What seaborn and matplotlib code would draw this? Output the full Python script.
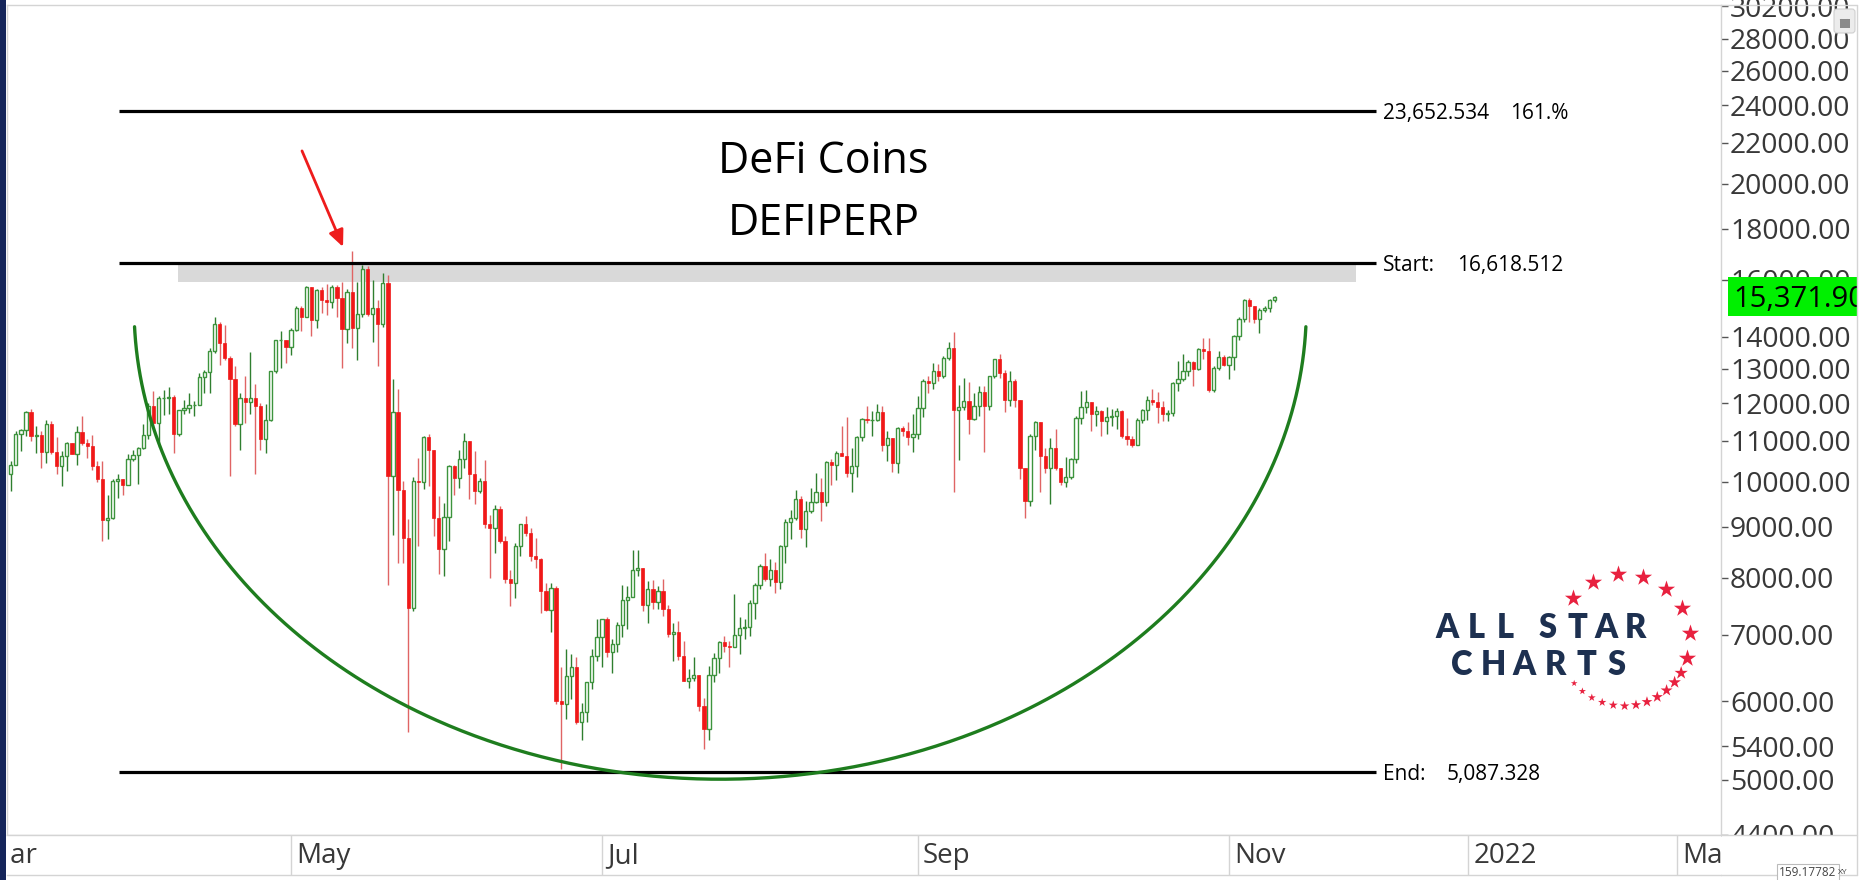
import numpy as np
import pandas as pd
import matplotlib
matplotlib.use("Agg")
import matplotlib.pyplot as plt
import matplotlib.transforms as mtransforms
from matplotlib.patches import Rectangle, FancyBboxPatch, Arc
from matplotlib.ticker import FixedLocator, FixedFormatter, NullLocator
import seaborn as sns

# ------------------------------------------------------------------ data
START_DATE = "2021-03-07"
FIRST_OPEN = 10180
LAST_PRICE = 15371.90

close = [
    10400, 11180, 11270, 11760, 11110, 11150, 10710, 11420, 10720, 10380,
    10610, 10930, 10670, 11220, 10940, 10870, 10360, 10050, 9140, 9190,
    10010, 10060, 9930, 10550, 10630, 10800, 11140, 11930, 11460, 12150,
    12150, 12170, 11160, 11800, 11870, 11960, 11960, 12740, 12890, 13560,
    14430, 13800, 13330, 12680, 11420, 12150, 12040, 12150, 11910, 11030,
    11550, 12920, 13890, 13910, 13680, 14240, 14990, 14660, 15740, 14570,
    15620, 15260, 15170, 15740, 15320, 14260, 15560, 14290, 14780, 16390,
    14780, 14970, 14440, 15870, 10140, 11750, 9800, 8780, 7460, 10020,
    9990, 11090, 10770, 9190, 8540, 9210, 10380, 10090, 10530, 10980,
    10170, 9780, 10010, 9050, 8980, 9390, 8710, 7980, 7890, 8610,
    9050, 8880, 8410, 8360, 7750, 7410, 7810, 6000, 5960, 6360,
    6500, 5720, 5850, 6270, 6660, 6970, 7270, 6730, 6860, 7170,
    7600, 7650, 8150, 8170, 7500, 7780, 7550, 7750, 7440, 7010,
    7050, 6670, 6290, 6330, 6370, 5930, 5620, 6370, 6630, 6880,
    6820, 6810, 7000, 7120, 7130, 7540, 7860, 8210, 7980, 8150,
    7920, 8610, 9100, 9190, 9610, 8950, 9330, 9540, 9760, 9540,
    10470, 10400, 10690, 10610, 10210, 10360, 11090, 11580, 11530, 11550,
    11760, 10900, 11070, 10430, 11330, 11260, 11090, 11170, 11870, 12650,
    12580, 12920, 12770, 13330, 13640, 11820, 11900, 12070, 11570, 11910,
    12320, 11910, 12770, 13300, 12870, 12080, 12650, 12080, 10330, 9550,
    11110, 11480, 10610, 10330, 10820, 10330, 9990, 10100, 10540, 11600,
    11900, 12030, 11710, 11780, 11510, 11610, 11640, 11780, 11110, 11030,
    10900, 11550, 11800, 12100, 12030, 11900, 11690, 11730, 12580, 12680,
    12920, 13210, 12990, 13610, 13540, 12380, 13030, 13360, 13100, 13360,
    14040, 14590, 15260, 15030, 14590, 14910, 14970, 15260, 15371.9,
]

high = [
    10490, 11240, 11310, 11795, 11850, 11370, 11240, 11551, 11510, 11090,
    10730, 10970, 10920, 11370, 11640, 11030, 11140, 10490, 10490, 9690,
    10050, 10170, 10050, 10650, 10770, 10830, 11420, 12010, 12340, 12190,
    12360, 12450, 12240, 11820, 12100, 12290, 12050, 12870, 12970, 13640,
    14650, 14510, 14400, 13400, 13070, 12290, 12770, 13510, 12560, 12010,
    11990, 12920, 13910, 14210, 13910, 14290, 15030, 15030, 15770, 15740,
    15650, 15720, 15830, 15780, 15800, 15890, 15650, 17080, 15920, 16560,
    16520, 15990, 15260, 16240, 16170, 12680, 12400, 10010, 9170, 10110,
    10570, 11110, 11160, 10690, 9660, 9520, 10400, 10400, 10770, 11200,
    11000, 10730, 10090, 10510, 9260, 9480, 9440, 8820, 8150, 8670,
    9070, 9240, 8980, 8780, 8380, 7900, 7890, 7840, 6490, 6770,
    6690, 6650, 5980, 6270, 6780, 7260, 7270, 7300, 6930, 7210,
    7860, 7840, 8530, 8530, 8150, 7930, 7960, 7850, 7980, 7500,
    7190, 7230, 6900, 6470, 6650, 6370, 6040, 6510, 6710, 6900,
    6980, 6900, 7690, 7290, 7260, 7600, 7890, 8250, 8460, 8360,
    8290, 8620, 9160, 9370, 9800, 9660, 9550, 9850, 10190, 10090,
    10490, 10530, 10730, 11370, 11610, 10820, 11110, 11600, 11930, 11780,
    11990, 11910, 11240, 11030, 11350, 11370, 11480, 11690, 12190, 12680,
    12770, 13180, 13150, 13380, 13820, 14160, 12530, 12730, 12610, 12290,
    12500, 12500, 12790, 13300, 13460, 12970, 12940, 12680, 12100, 10330,
    11160, 11510, 11480, 10800, 11070, 11290, 10330, 10590, 10570, 11640,
    12340, 12360, 12010, 11910, 11820, 11890, 11840, 11870, 11820, 11600,
    11110, 11600, 11840, 12190, 12410, 12320, 12050, 11820, 12600, 13230,
    13450, 13280, 13230, 13640, 13980, 13980, 13070, 13540, 13430, 13380,
    14070, 14680, 15290, 15320, 15050, 14970, 15030, 15300, 15400,
]

low = [
    9780, 10430, 10730, 11110, 10980, 10690, 10330, 10450, 10650, 10180,
    9890, 10240, 10650, 10400, 10900, 10570, 10280, 9990, 8710, 8740,
    9160, 9630, 9700, 10210, 10490, 9950, 10780, 11030, 11330, 10830,
    11670, 11690, 10690, 11110, 11690, 11730, 11640, 11940, 12290, 12290,
    13490, 13100, 13280, 10130, 11370, 10760, 11460, 11690, 10170, 10760,
    10690, 11510, 12870, 13030, 13180, 13430, 14210, 14180, 14910, 14020,
    14290, 14800, 14740, 14970, 14680, 13030, 13800, 13640, 13260, 14660,
    14710, 13850, 13070, 14330, 7870, 8840, 8270, 8280, 5580, 7400,
    8610, 9820, 9890, 8810, 8060, 8030, 8700, 9700, 9850, 10330,
    9610, 9500, 9740, 8980, 8000, 8470, 8670, 7900, 7490, 7630,
    8410, 8810, 8310, 8180, 7370, 7400, 7040, 5960, 5120, 5750,
    6030, 5690, 5480, 5720, 6170, 6590, 6490, 6650, 6410, 6720,
    6960, 7100, 7650, 8030, 7400, 7200, 7430, 7430, 7310, 6960,
    6590, 6610, 6290, 6180, 6290, 5870, 5370, 5480, 6270, 6400,
    6730, 6490, 6800, 6700, 6940, 6990, 7270, 7780, 7930, 7840,
    7710, 7790, 8280, 8750, 9140, 8780, 8590, 9300, 9520, 9120,
    9440, 9930, 10030, 10610, 10110, 9750, 10100, 10980, 11460, 11130,
    11510, 10730, 10490, 10220, 10210, 11110, 10900, 10710, 11030, 11620,
    12290, 12400, 12630, 12730, 13280, 9750, 10510, 11820, 11160, 11530,
    11660, 10710, 11800, 12730, 12730, 11760, 11910, 11900, 10050, 9190,
    9440, 10770, 9760, 10210, 9500, 10280, 9920, 9880, 10070, 10450,
    11420, 11730, 11260, 11370, 11110, 11160, 11370, 11290, 11070, 10900,
    10850, 10940, 11460, 11550, 11960, 11460, 11510, 11510, 11640, 12340,
    12630, 12770, 12480, 12970, 13300, 12320, 12310, 12970, 13070, 12680,
    12970, 13910, 14510, 14510, 14460, 14130, 14820, 14850, 15200,
]

y_tick_values = [4400, 5000, 5400, 6000, 7000, 8000, 9000, 10000, 11000, 12000,
                 13000, 14000, 16000, 18000, 20000, 22000, 24000, 26000, 28000, 30200]
month_labels = ["Mar", "May", "Jul", "Sep", "Nov", "2022", "Mar"]
month_dates = ["2021-03-01", "2021-05-01", "2021-07-01", "2021-09-01",
               "2021-11-01", "2022-01-01", "2022-03-01"]

level_values = [23652.534, 16618.512, 5087.328]
level_names = ["23,652.534", "Start:", "End:"]
level_texts = ["161.%", "16,618.512", "5,087.328"]
zone_low, zone_high = 15920, 16600

title_lines = ["DeFi Coins", "DEFIPERP"]
logo_lines = ["ALL STAR", "CHARTS"]
scale_readout = "159.17782"

# cup (rounded bottom) drawing, in chart coordinates
CUP_CENTER, CUP_HALF = 139.2, 115.0
CUP_RIM, CUP_BOTTOM, CUP_END = 14986, 5004, 14335

# ------------------------------------------------------------------ style
sns.set_theme(style="white")
plt.rcParams["font.family"] = ["Open Sans", "DejaVu Sans"]

GREEN_EDGE = "#3d943d"
GREEN_WICK = "#2f7f2f"
RED_BODY = "#f01818"
RED_WICK = "#e06464"
GRID_GRAY = "#d4d4d4"
LABEL_GRAY = "#383838"

W, H = 1865, 880
fig = plt.figure(figsize=(W / 100, H / 100), dpi=100)
fig.patch.set_facecolor("white")


def px_rect(x0, y0, x1, y1):
    return [x0 / W, 1 - y1 / H, (x1 - x0) / W, (y1 - y0) / H]


ax = fig.add_axes(px_rect(7, 5, 1721, 835))
band = fig.add_axes(px_rect(7, 835, 1721, 875))
over = fig.add_axes([0, 0, 1, 1], zorder=10)
over.set_xlim(0, W)
over.set_ylim(H, 0)
over.axis("off")
over.patch.set_alpha(0)

ax.set_yscale("log")

c = np.asarray(close, float)
hi = np.asarray(high, float)
lo = np.asarray(low, float)
o = np.r_[FIRST_OPEN, c[:-1]]
n = len(c)
dates = pd.date_range(START_DATE, periods=n, freq="D")
x = np.arange(n)


def chart_pos(d):
    """Calendar days for history, weekday slots for the future area."""
    d = pd.Timestamp(d)
    if d <= dates[-1]:
        return (d - dates[0]).days
    nxt = (dates[-1] + pd.Timedelta(days=1)).date()
    return n + int(np.busday_count(nxt, d.date()))


XLIM = (-0.73, 335.55)

# ------------------------------------------------------------------ candles
up = c >= o
w_lo = np.minimum(lo, np.minimum(o, c))
w_hi = np.maximum(hi, np.maximum(o, c))
ax.vlines(x[up], w_lo[up], w_hi[up], color=GREEN_WICK, lw=1.0, zorder=3)
ax.vlines(x[~up], w_lo[~up], w_hi[~up], color=RED_WICK, lw=1.0, zorder=3)
b_lo = np.minimum(o, c)
b_h = np.abs(c - o)
ax.bar(x[up], b_h[up], bottom=b_lo[up], width=0.64, facecolor="white",
       edgecolor=GREEN_EDGE, linewidth=1.0, zorder=4)
ax.bar(x[~up], b_h[~up], bottom=b_lo[~up], width=0.64, facecolor=RED_BODY,
       edgecolor=RED_BODY, linewidth=0.5, zorder=4)

# ------------------------------------------------------------------ annotations
LINE_X0, LINE_X1 = 21.25, 267.9
ax.fill_between([32.9, 263.9], zone_low, zone_high, color="#d9d9d9", lw=0, zorder=1)
ax.hlines(level_values, LINE_X0, LINE_X1, color="black", lw=2.3, zorder=5)
for val, name, txt, off in zip(level_values, level_names, level_texts, [96.2, 58.0, 51.0]):
    ax.annotate(name, xy=(LINE_X1, val), xytext=(5.0, -5.4), textcoords="offset points",
                fontsize=15, va="baseline", ha="left", color="black", annotation_clip=False)
    ax.annotate(txt, xy=(LINE_X1, val), xytext=(off, -5.4), textcoords="offset points",
                fontsize=15, va="baseline", ha="left", color="black", annotation_clip=False)

lr, lb, le = np.log10([CUP_RIM, CUP_BOTTOM, CUP_END])
t0 = np.arcsin((lr - le) / (lr - lb))
tt = np.linspace(t0, np.pi - t0, 500)
cup = pd.DataFrame({"x": CUP_CENTER + CUP_HALF * np.cos(tt),
                    "y": 10 ** (lr - (lr - lb) * np.sin(tt))})
sns.lineplot(data=cup, x="x", y="y", sort=False, estimator=None,
             color="#1e7d1e", lw=2.4, ax=ax, zorder=6)
ax.set_xlabel("")
ax.set_ylabel("")

ax.annotate("", xy=(65.2, 17260), xytext=(57.15, 21580),
            arrowprops=dict(arrowstyle="-|>,head_length=1.0,head_width=0.45",
                            color="#ee1c1c", lw=2.0, shrinkA=0, shrinkB=0,
                            mutation_scale=10), zorder=7)

ax.text(0.4764, 0.7972, title_lines[0], transform=ax.transAxes, ha="center",
        va="baseline", fontsize=31, color="black")
ax.text(0.4764, 0.7229, title_lines[1], transform=ax.transAxes, ha="center",
        va="baseline", fontsize=31, color="black")

# ------------------------------------------------------------------ axes
ax.yaxis.tick_right()
ax.yaxis.set_major_locator(FixedLocator(y_tick_values))
ax.yaxis.set_major_formatter(FixedFormatter([f"{v:.2f}" for v in y_tick_values]))
ax.yaxis.set_minor_locator(NullLocator())
ax.tick_params(axis="y", which="major", right=True, left=False, labelright=True,
               labelleft=False, length=5, width=1, color="#555555",
               labelsize=20.3, labelcolor=LABEL_GRAY, pad=1.5)
ax.tick_params(axis="x", bottom=False, labelbottom=False)
ax.grid(False)
for s in ax.spines.values():
    s.set_color(GRID_GRAY)
    s.set_linewidth(1)

# last price tag
trans = mtransforms.blended_transform_factory(ax.transAxes, ax.transData)
f = 1.0464
ax.add_patch(Rectangle((1.0041, LAST_PRICE / f), 0.09, LAST_PRICE * f - LAST_PRICE / f,
                       transform=trans, facecolor="#00f000", edgecolor="none",
                       clip_on=False, zorder=8))
ax.annotate(f"{LAST_PRICE:,.2f}", xy=(1.0, LAST_PRICE), xycoords=trans,
            xytext=(8.6, -7.6), textcoords="offset points", fontsize=21,
            color="black", va="baseline", ha="left", annotation_clip=False, zorder=9)
ax.set_xlim(*XLIM)
ax.set_ylim(4395, 30300)

# date band
band.set_xlim(*XLIM)
band.set_ylim(0, 1)
band.set_xticks([])
band.set_yticks([])
band.set_facecolor("white")
band.spines["left"].set_visible(False)
band.spines["right"].set_visible(False)
for k in ("top", "bottom"):
    band.spines[k].set_color(GRID_GRAY)
    band.spines[k].set_linewidth(1)
for lab, d in zip(month_labels, month_dates):
    p = chart_pos(d)
    band.axvline(p, color=GRID_GRAY, lw=1)
    band.annotate(lab, xy=(p, 0.3), xycoords=("data", "axes fraction"),
                  xytext=(3.6, 0), textcoords="offset points", fontsize=20,
                  color=LABEL_GRAY, va="baseline", ha="left",
                  annotation_clip=False, clip_on=True)

# ------------------------------------------------------------------ frame decorations
over.add_patch(Rectangle((0, 0), 6, H, facecolor="#15255a", edgecolor="none"))
over.add_patch(Rectangle((6, 837), 5, 36, facecolor="white", edgecolor="none"))
over.add_patch(Rectangle((1722, 836), 1857 - 1722, H - 836, facecolor="white", edgecolor="none"))
over.add_patch(Rectangle((1857, 0), W - 1857, H, facecolor="white", edgecolor="none"))
over.plot([1721, 1857], [835, 835], color=GRID_GRAY, lw=1)
over.plot([1721, 1857], [875, 875], color=GRID_GRAY, lw=1)
over.plot([1721, 1857], [5, 5], color=GRID_GRAY, lw=1)
over.plot([1857, 1857], [5, 875], color=GRID_GRAY, lw=1)
over.text(1779, 873, scale_readout, fontsize=8.5, va="center", ha="left", color="#444444",
          bbox=dict(facecolor="white", edgecolor="#bbbbbb", lw=0.8, pad=1.5))
over.text(1838, 872, "XY", fontsize=6, va="center", ha="left", color="#444444")

# lock button (top right)
over.add_patch(FancyBboxPatch((1834, 9), 21, 24, boxstyle="round,pad=0,rounding_size=3",
                              facecolor="#ececec", edgecolor="#cfcfcf", lw=0.8))
over.add_patch(Rectangle((1839.5, 19), 10, 9, facecolor="#8a8a8a", edgecolor="none"))
over.add_patch(Arc((1844.5, 19), 7, 9, theta1=0, theta2=180, color="#8a8a8a", lw=1.6))

# logo
NAVY = "#1d3050"
xpos = 1447
for ch in logo_lines[0]:
    if ch == " ":
        xpos += 14
        continue
    over.text(xpos, 638, ch, fontsize=23.5, fontweight="heavy", family=["Lato", "DejaVu Sans"],
              color=NAVY, ha="center", va="baseline")
    xpos += 29
xpos = 1462
for ch in logo_lines[1]:
    over.text(xpos, 675, ch, fontsize=23.5, fontweight="heavy", family=["Lato", "DejaVu Sans"],
              color=NAVY, ha="center", va="baseline")
    xpos += 31

STAR_RED = "#e8213f"
cx, cy, r = 1624, 640, 66
big = np.deg2rad(np.linspace(140, -16, 8))
small = np.deg2rad(np.linspace(-30, -139, 12))
over.scatter(cx + r * np.cos(big), cy - r * np.sin(big), marker="*", s=13 ** 2,
             color=STAR_RED, linewidths=0)
over.scatter(cx + r * np.cos(small), cy - r * np.sin(small), marker="*",
             s=np.linspace(10, 5, 12) ** 2, color=STAR_RED, linewidths=0)

fig.savefig("out.png", dpi=100)
